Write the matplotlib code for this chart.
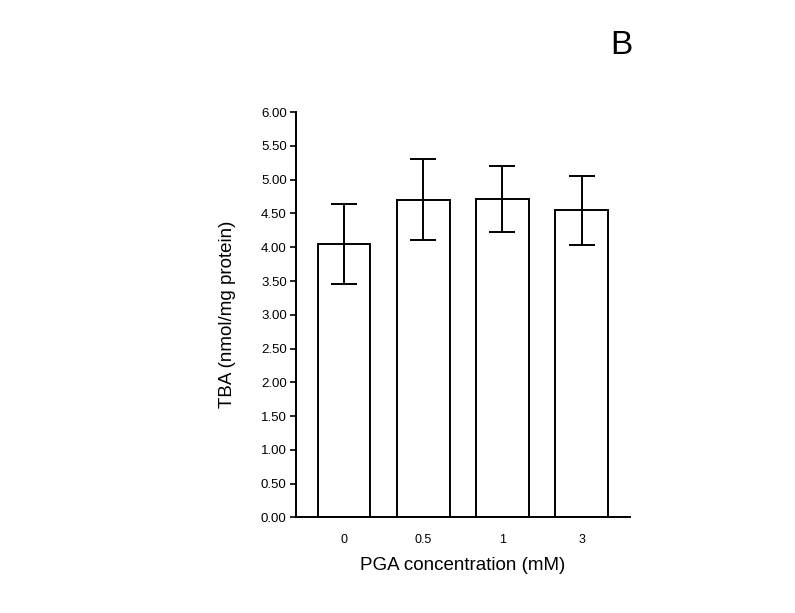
import matplotlib
matplotlib.use("Agg")
import matplotlib.pyplot as plt
import numpy as np

categories = ["0", "0.5", "1", "3"]
values = [4.05, 4.70, 4.72, 4.55]
errors = [0.59, 0.60, 0.49, 0.51]
yticks = [0.0, 0.5, 1.0, 1.5, 2.0, 2.5, 3.0, 3.5, 4.0, 4.5, 5.0, 5.5, 6.0]

plt.rcParams['font.family'] = ['Liberation Sans', 'DejaVu Sans']

fig = plt.figure(figsize=(7.95, 6.13), dpi=100)
ax = fig.add_axes([0.372, 0.156, 0.421, 0.661])

x = np.arange(len(categories))
ax.bar(x, values, width=0.664, color='white', edgecolor='black', linewidth=1.4, zorder=2)
ax.errorbar(x, values, yerr=errors, fmt='none', ecolor='black', elinewidth=1.4,
            capsize=9.5, capthick=1.4, zorder=3)

ax.set_xlim(-0.609, 3.615)
ax.set_ylim(0, 6)
ax.set_yticks(yticks)
ax.set_yticklabels([f"{v:.2f}" for v in yticks], fontsize=9.5)
ax.set_xticks(x)
ax.set_xticklabels(categories, fontsize=9)
ax.tick_params(axis='x', length=0, pad=12)
ax.tick_params(axis='y', length=4.5, width=1.2, pad=2)

for s in ['top', 'right']:
    ax.spines[s].set_visible(False)
for s in ['left', 'bottom']:
    ax.spines[s].set_linewidth(1.4)

ax.set_ylabel("TBA (nmol/mg protein)", fontsize=13.5)
ax.set_xlabel("PGA concentration (mM)", fontsize=13.5)
ax.yaxis.set_label_coords(-0.205, 0.5)
ax.xaxis.set_label_coords(0.5, -0.118)
ax.yaxis.label.set_va('center')
ax.xaxis.label.set_va('center')

fig.text(0.781, 0.926, "B", fontsize=24, ha='center', va='center')

fig.savefig("out.png", dpi=100)
